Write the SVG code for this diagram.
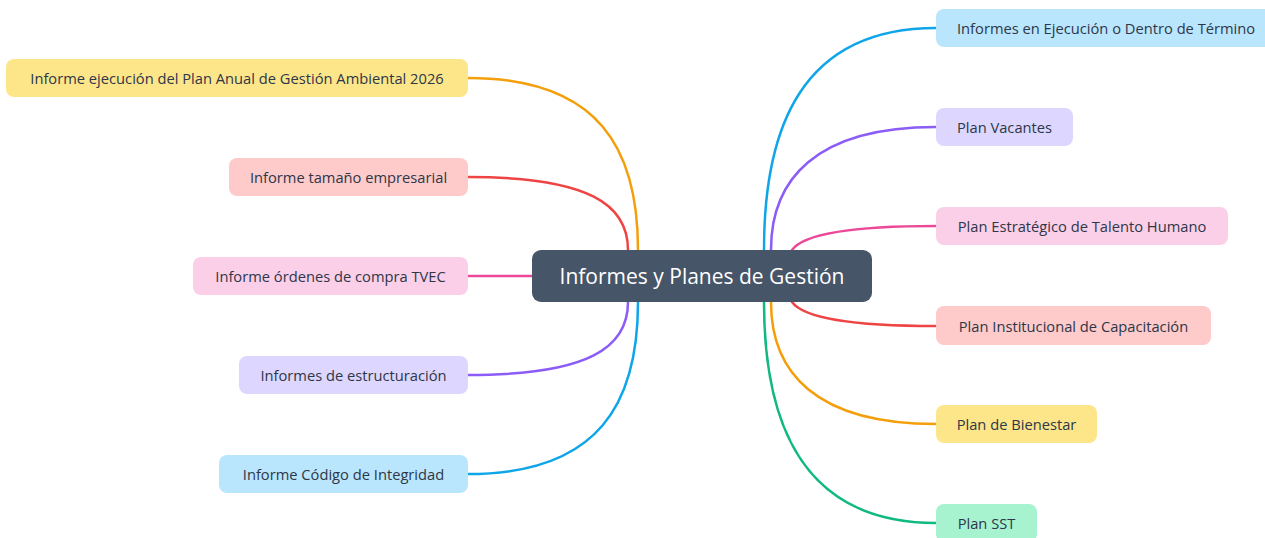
<svg xmlns="http://www.w3.org/2000/svg" width="1265" height="538" viewBox="0 0 1265 538">
<style>
.n text{font-family:"Open Sans","Noto Sans",sans-serif;font-size:14.7px;font-weight:500;fill:#2d3748;text-anchor:middle;dominant-baseline:central}
.c{fill:none;stroke-width:2.5;stroke-linecap:round}
</style>
<rect width="1265" height="538" fill="#ffffff"/>
<g id="connectors">
<path class="c" stroke="#f59e0b" d="M468,78 C600,78 638,150 638,250"/>
<path class="c" stroke="#ef4444" d="M468,177 C590,177 628,205 628,250"/>
<path class="c" stroke="#ec4899" d="M468,276 L532,276"/>
<path class="c" stroke="#8b5cf6" d="M468,375 C590,375 628,347 628,302"/>
<path class="c" stroke="#0ea5e9" d="M468,474 C600,474 638,402 638,302"/>
<path class="c" stroke="#0ea5e9" d="M936,28 C800,28 764,130 764,250"/>
<path class="c" stroke="#8b5cf6" d="M936,127 C815,127 771,180 771,250"/>
<path class="c" stroke="#ec4899" d="M936,226 C860,226 805,232 792,250"/>
<path class="c" stroke="#ef4444" d="M936,326 C860,326 805,320 792,302"/>
<path class="c" stroke="#f59e0b" d="M936,424 C815,424 771,372 771,302"/>
<path class="c" stroke="#10b981" d="M936,523 C800,523 764,420 764,302"/>
</g>
<g id="root" class="n">
<rect x="532" y="250" width="340" height="52" rx="9" fill="#475569"/>
<text x="702" y="276" style="font-size:21px;fill:#ffffff">Informes y Planes de Gestión</text>
</g>
<g id="l1" class="n"><rect x="6" y="59" width="462" height="38" rx="8" fill="#fde68a"/><text x="237" y="78">Informe ejecución del Plan Anual de Gestión Ambiental 2026</text></g>
<g id="l2" class="n"><rect x="229" y="158" width="239" height="38" rx="8" fill="#fecaca"/><text x="348.5" y="177">Informe tamaño empresarial</text></g>
<g id="l3" class="n"><rect x="193" y="257" width="275" height="38" rx="8" fill="#fbcfe8"/><text x="330.5" y="276">Informe órdenes de compra TVEC</text></g>
<g id="l4" class="n"><rect x="239" y="356" width="229" height="38" rx="8" fill="#ddd6fe"/><text x="353.5" y="375">Informes de estructuración</text></g>
<g id="l5" class="n"><rect x="219" y="455" width="249" height="38" rx="8" fill="#bae6fd"/><text x="343.5" y="474">Informe Código de Integridad</text></g>
<g id="r1" class="n"><rect x="936" y="9" width="340" height="38" rx="8" fill="#bae6fd"/><text x="957" y="28" style="text-anchor:start">Informes en Ejecución o Dentro de Término</text></g>
<g id="r2" class="n"><rect x="936" y="108" width="137" height="38" rx="8" fill="#ddd6fe"/><text x="1004.5" y="127">Plan Vacantes</text></g>
<g id="r3" class="n"><rect x="936" y="207" width="292" height="38" rx="8" fill="#fbcfe8"/><text x="1082" y="226">Plan Estratégico de Talento Humano</text></g>
<g id="r4" class="n"><rect x="936" y="306" width="275" height="39" rx="8" fill="#fecaca"/><text x="1073.5" y="326">Plan Institucional de Capacitación</text></g>
<g id="r5" class="n"><rect x="936" y="405" width="161" height="38" rx="8" fill="#fde68a"/><text x="1016.5" y="424">Plan de Bienestar</text></g>
<g id="r6" class="n"><rect x="936" y="504" width="101" height="38" rx="8" fill="#a7f3d0"/><text x="986.5" y="523">Plan SST</text></g>
</svg>
